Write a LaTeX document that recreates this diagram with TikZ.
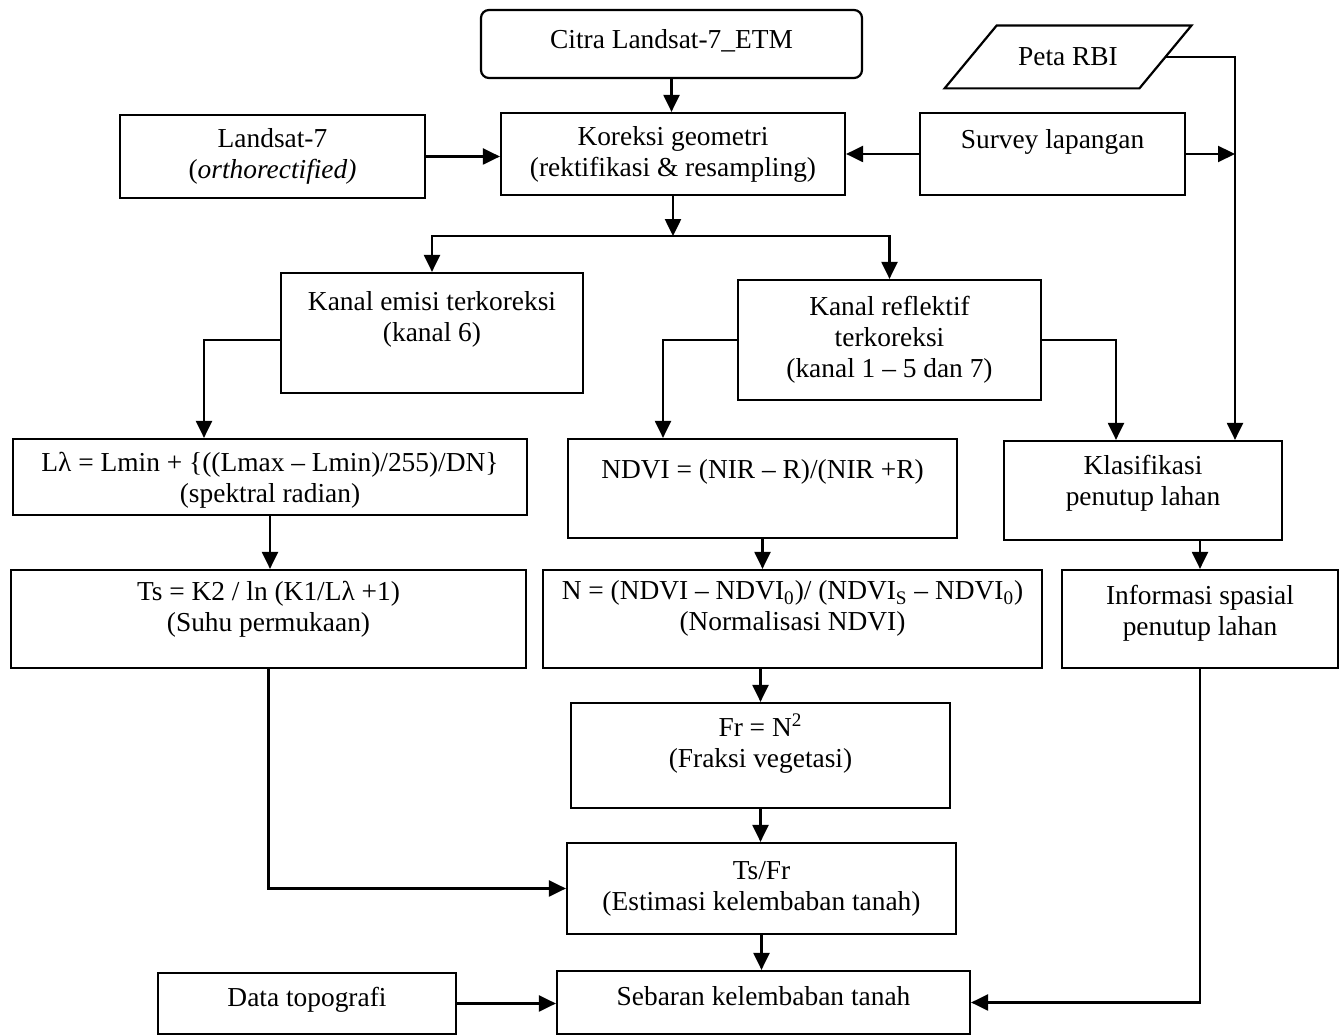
\documentclass[tikz,border=0pt]{standalone}
\usepackage{fontspec}
\setmainfont{Liberation Serif}
\usetikzlibrary{arrows.meta}

\begin{document}
\begin{tikzpicture}[x=0.5pt, y=-0.5pt,
        every node/.style={font=\fontsize{13.7}{15.5}\selectfont},
        box/.style={draw, line width=1.1pt, align=center, inner sep=3pt},
        lift/.style={text depth=#1},
        arr/.style={line width=1.1pt, -{Triangle[length=8.5pt, width=8pt]}},
        link/.style={line width=1.1pt}]
        \useasboundingbox (0, 0) rectangle (1341, 1036);

        % Input data
        \node[box, rounded corners=4pt, minimum width=190.5pt, minimum height=34pt, lift=5pt] (citra) at (671.5, 44) {Citra Landsat-7\_ETM};
        \node[box, minimum width=152.5pt, minimum height=41.5pt] (lnd) at (272.5, 156.5) {Landsat-7\\(\textit{orthorectified)}};
        \node[box, minimum width=172pt, minimum height=41pt] (kor) at (673, 154) {Koreksi geometri\\(rektifikasi \& resampling)};
        \node[minimum width=97pt, minimum height=31pt, inner sep=0pt] (peta) at (1068, 57) {Peta RBI};
        \draw[link] ([xshift=-13pt]peta.south west) -- ([xshift=-13pt]peta.south east)
            -- ([xshift=13pt]peta.north east) -- ([xshift=13pt]peta.north west) -- cycle;
        \node[box, minimum width=132.5pt, minimum height=41pt, lift=15pt] (srv) at (1052.5, 154) {Survey lapangan};

        % Kanal
        \node[box, minimum width=151pt, minimum height=60pt, lift=16pt] (kem) at (432, 333) {Kanal emisi terkoreksi\\(kanal 6)};
        \node[box, minimum width=151.5pt, minimum height=60pt] (kref) at (889.5, 340) {Kanal reflektif\\terkoreksi\\(kanal 1 – 5 dan 7)};

        % Perhitungan
        \node[box, minimum width=257pt, minimum height=38pt, lift=0pt] (lam) at (270, 477) {Lλ = Lmin + \{((Lmax – Lmin)/255)/DN\}\\(spektral radian)};
        \node[box, minimum width=194.5pt, minimum height=49.5pt, lift=19pt] (ndvi) at (762.5, 488.5) {NDVI = (NIR – R)/(NIR +R)};
        \node[box, minimum width=139pt, minimum height=49.5pt, lift=10pt] (kls) at (1143, 490.5) {Klasifikasi\\penutup lahan};
        \node[box, minimum width=257.5pt, minimum height=49pt, lift=13pt] (ts) at (268.5, 619) {Ts = K2 / ln (K1/Lλ +1)\\(Suhu permukaan)};
        \node[box, minimum width=249.5pt, minimum height=49pt, lift=13pt] (nrm) at (792.5, 619) {N = (NDVI – NDVI\textsubscript{0})/ (NDVI\textsubscript{S} – NDVI\textsubscript{0})\\(Normalisasi NDVI)};
        \node[box, minimum width=138pt, minimum height=49pt, lift=9pt] (inf) at (1200, 619) {Informasi spasial\\penutup lahan};
        \node[box, minimum width=189.5pt, minimum height=52.5pt, lift=15pt] (fr) at (760.5, 755.5) {Fr = N\textsuperscript{2}\\(Fraksi vegetasi)};
        \node[box, minimum width=194.5pt, minimum height=45.5pt] (tsfr) at (761.5, 888.5) {Ts/Fr\\(Estimasi kelembaban tanah)};

        % Hasil
        \node[box, minimum width=206.5pt, minimum height=31.5pt, lift=7pt] (seb) at (763.5, 1002.5) {Sebaran kelembaban tanah};
        \node[box, minimum width=149pt, minimum height=30.5pt, lift=7pt] (topo) at (307, 1003.5) {Data topografi};

        % Connectors
        \coordinate (split) at ([yshift=-20pt]kor.south);
        \coordinate (rbus) at ([xshift=46pt]kls.north);
        \draw[arr] (citra.south) -- (citra.south |- kor.north);
        \draw[arr] (lnd.east) -- (lnd.east -| kor.west);
        \draw[arr] (srv.west) -- (srv.west -| kor.east);
        \draw[arr] (peta.east) -| (rbus);
        \draw[arr] (srv.east) -- (srv.east -| rbus);
        \draw[arr] (kor.south) -- (split);
        \draw[arr] (split) -| (kem.north);
        \draw[arr] (split) -| (kref.north);
        \draw[arr] ([yshift=-3.5pt]kem.west) -| ([xshift=-33pt]lam.north);
        \draw[arr] (kref.west) -| ([xshift=-49.75pt]ndvi.north);
        \draw[arr] (kref.east) -| ([xshift=-13.5pt]kls.north);
        \draw[arr] (lam.south) -- (lam.south |- ts.north);
        \draw[arr] (ndvi.south) -- (ndvi.south |- nrm.north);
        \draw[arr] (kls.south -| inf.north) -- (inf.north);
        \draw[arr] (fr.north |- nrm.south) -- (fr.north);
        \draw[arr] (fr.south) -- (fr.south |- tsfr.north);
        \draw[arr] (ts.south) |- (tsfr.west);
        \draw[arr] (tsfr.south) -- (tsfr.south |- seb.north);
        \draw[arr] (topo.east) -- (topo.east -| seb.west);
        \draw[arr] (inf.south) |- (seb.east);
\end{tikzpicture}
\end{document}
